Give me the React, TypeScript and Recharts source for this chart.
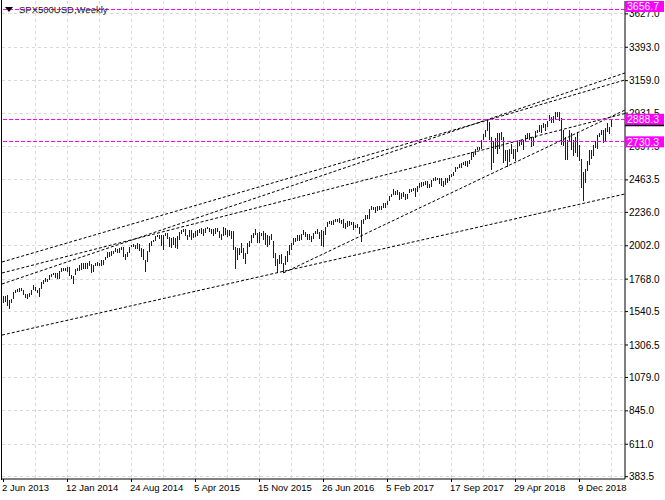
import React from 'react'
import { ComposedChart, Bar, XAxis, YAxis, CartesianGrid, ReferenceLine } from 'recharts'

// weekly bars, one per week starting 2 Jun 2013 (index 0) up to 31 Mar 2019 (index 304)
const highs = [
  1648, 1650, 1654, 1620, 1632, 1680, 1693, 1698, 1709, 1709,
  1695, 1664, 1666, 1670, 1690, 1730, 1711, 1695, 1705, 1745,
  1760, 1775, 1771, 1799, 1805, 1813, 1810, 1811, 1823, 1844,
  1849, 1843, 1851, 1850, 1799, 1793, 1840, 1847, 1867, 1883,
  1883, 1884, 1883, 1897, 1875, 1865, 1884, 1891, 1882, 1902,
  1901, 1924, 1955, 1955, 1964, 1968, 1985, 1979, 1983, 1991,
  1991, 1943, 1960, 1995, 2006, 2011, 2007, 2019, 2011, 1985,
  1977, 1905, 1965, 2019, 2034, 2042, 2071, 2075, 2079, 2076,
  2077, 2094, 2093, 2064, 2056, 2064, 2057, 2072, 2097, 2111,
  2119, 2117, 2080, 2114, 2114, 2089, 2103, 2111, 2120, 2126,
  2121, 2123, 2135, 2126, 2121, 2116, 2127, 2129, 2102, 2086,
  2132, 2129, 2114, 2113, 2103, 2102, 1994, 1987, 1983, 2021,
  1988, 1952, 2020, 2035, 2076, 2094, 2116, 2094, 2097, 2094,
  2104, 2090, 2076, 2067, 2081, 2038, 1950, 1908, 1940, 1947,
  1881, 1930, 1962, 2009, 2023, 2053, 2056, 2075, 2075, 2085,
  2111, 2099, 2083, 2084, 2071, 2094, 2105, 2120, 2096, 2113,
  2103, 2131, 2169, 2175, 2178, 2183, 2188, 2187, 2193, 2184,
  2187, 2162, 2176, 2175, 2170, 2169, 2148, 2152, 2133, 2182,
  2189, 2214, 2214, 2260, 2278, 2273, 2273, 2283, 2280, 2279,
  2300, 2300, 2319, 2352, 2368, 2401, 2384, 2390, 2382, 2370,
  2378, 2366, 2362, 2398, 2400, 2404, 2406, 2418, 2440, 2446,
  2446, 2454, 2453, 2434, 2463, 2477, 2484, 2480, 2480, 2474,
  2454, 2480, 2475, 2500, 2508, 2521, 2552, 2557, 2576, 2582,
  2588, 2598, 2593, 2605, 2657, 2652, 2680, 2695, 2693, 2745,
  2788, 2815, 2888, 2870, 2765, 2735, 2755, 2790, 2790, 2802,
  2762, 2675, 2675, 2680, 2718, 2683, 2682, 2733, 2743, 2742,
  2742, 2779, 2791, 2790, 2764, 2764, 2804, 2816, 2848, 2848,
  2863, 2855, 2877, 2916, 2906, 2908, 2941, 2939, 2940, 2898,
  2816, 2764, 2745, 2815, 2795, 2746, 2765, 2800, 2708, 2607,
  2520, 2540, 2597, 2675, 2671, 2708, 2738, 2780, 2794, 2814,
  2812, 2830, 2861, 2836, 2893,
]
const lows = [
  1598, 1608, 1577, 1560, 1601, 1630, 1671, 1681, 1676, 1684,
  1656, 1639, 1627, 1640, 1655, 1690, 1687, 1670, 1646, 1696,
  1735, 1747, 1746, 1760, 1780, 1800, 1779, 1772, 1767, 1818,
  1827, 1823, 1815, 1790, 1770, 1737, 1795, 1825, 1824, 1834,
  1839, 1839, 1842, 1862, 1813, 1815, 1857, 1859, 1859, 1863,
  1868, 1900, 1915, 1925, 1930, 1944, 1957, 1952, 1952, 1970,
  1925, 1904, 1921, 1953, 1990, 1990, 1980, 1977, 1963, 1926,
  1904, 1820, 1886, 1960, 2001, 2030, 2034, 2064, 2049, 2003,
  1972, 2070, 2046, 1992, 1988, 2004, 1989, 1981, 2041, 2085,
  2097, 2067, 2039, 2060, 2045, 2056, 2066, 2072, 2094, 2082,
  2067, 2093, 2117, 2099, 2085, 2072, 2085, 2097, 2056, 2044,
  2072, 2077, 2063, 2067, 2052, 1971, 1837, 1903, 1937, 1953,
  1909, 1871, 1947, 1990, 2022, 2058, 2076, 2022, 2019, 2070,
  2042, 2006, 1993, 2005, 2040, 1918, 1857, 1812, 1872, 1872,
  1810, 1865, 1891, 1937, 1969, 2010, 2027, 2033, 2034, 2039,
  2080, 2060, 2039, 2044, 2025, 2048, 2085, 2085, 2050, 2000,
  1991, 2074, 2131, 2155, 2149, 2147, 2168, 2168, 2160, 2157,
  2127, 2119, 2132, 2141, 2144, 2114, 2125, 2125, 2084, 2030,
  2156, 2183, 2187, 2188, 2250, 2254, 2233, 2245, 2254, 2256,
  2265, 2267, 2290, 2316, 2344, 2356, 2356, 2358, 2322, 2330,
  2344, 2322, 2328, 2373, 2379, 2384, 2344, 2382, 2407, 2415,
  2418, 2428, 2405, 2407, 2415, 2455, 2459, 2464, 2432, 2418,
  2417, 2429, 2441, 2459, 2487, 2488, 2521, 2541, 2547, 2545,
  2566, 2564, 2557, 2575, 2601, 2624, 2637, 2676, 2670, 2682,
  2742, 2766, 2808, 2745, 2532, 2580, 2680, 2647, 2682, 2741,
  2585, 2593, 2553, 2586, 2646, 2612, 2594, 2662, 2701, 2707,
  2676, 2730, 2752, 2741, 2692, 2698, 2757, 2790, 2800, 2793,
  2830, 2803, 2836, 2876, 2864, 2864, 2885, 2903, 2874, 2710,
  2700, 2604, 2603, 2730, 2670, 2631, 2649, 2621, 2593, 2408,
  2316, 2443, 2525, 2570, 2612, 2631, 2687, 2681, 2764, 2775,
  2722, 2732, 2800, 2785, 2836,
]

const xTicks = [0, 32, 64, 96, 128, 160, 192, 224, 256, 288]
const xTickLabels = [
  '2 Jun 2013', '12 Jan 2014', '24 Aug 2014', '5 Apr 2015', '15 Nov 2015',
  '26 Jun 2016', '5 Feb 2017', '17 Sep 2017', '29 Apr 2018', '9 Dec 2018',
]
const gridBars = [16, 32, 48, 64, 80, 96, 112, 128, 144, 160, 176, 192, 208, 224, 240, 256, 272, 288, 304]
const yTicks = [383.5, 611.0, 845.0, 1079.0, 1306.5, 1540.5, 1768.0, 2002.0, 2236.0, 2463.5, 2697.5, 2931.5, 3159.0, 3393.0, 3627.0]

// horizontal levels drawn on the chart
const levels = [3656.7, 2888.3, 2730.3]
const bidPrice = 2878

// trend lines: [bar index, price] at both ends
const trendStart = [[-0.75, 1888], [-0.75, 1811], [-0.75, 1734], [-0.75, 1376], [140, 1812]]
const trendEnd = [[310.75, 3164], [310.75, 2929], [310.75, 3213], [310.75, 2365], [310.75, 2953]]

const data = highs.map((h, i) => ({ i, range: [lows[i], h] }))

const FONT = "'Liberation Sans', Arial, sans-serif"
const X_DOMAIN = [-0.75, 310.75]
const Y_DOMAIN = [367.4, 3717.2]
const MARGIN = { top: 1, right: 0, bottom: 0, left: 2 }

const HighLowBar = (props: any) => {
  const { x, y, width, height } = props
  if (x == null || y == null || isNaN(x)) return null
  const cx = Math.round(x + width / 2 - 0.5) + 0.5
  return <line x1={cx} x2={cx} y1={y} y2={y + height} stroke="#0000ff" strokeWidth={1} shapeRendering="crispEdges" />
}

const XTick = (props: any) => {
  const { x, y, payload } = props
  const idx = xTicks.indexOf(payload.value)
  return (
    <text x={x - 1.5} y={y} dy="0.71em" textAnchor="start" fontSize={9.5} fontFamily={FONT} fill="#000">
      {xTickLabels[idx]}
    </text>
  )
}

// price tag on the right scale; near the top edge it is pushed up to the frame like the terminal does
const priceTag = (text: string, fill: string, color: string) => (props: any) => {
  const vb = props.viewBox || {}
  const left = vb.x + vb.width
  const top = vb.y - 5.5 < 6 ? 1 : vb.y - 5.5
  return (
    <g>
      <rect x={left} y={top} width={39} height={11} fill={fill} />
      <text x={left + 2} y={top + 5.5} dy="0.36em" fontSize={10.5} fontFamily={FONT} fill={color}>
        {text}
      </text>
    </g>
  )
}

export default function App() {
  return (
    <div style={{ position: 'absolute', left: 0, top: 0, width: 665, height: 500, background: '#fff' }}>
      <ComposedChart width={665} height={500} data={data} margin={MARGIN}>
        <CartesianGrid
          stroke="#d9d9d9"
          strokeDasharray="3 3"
          verticalValues={gridBars}
          horizontalValues={yTicks}
          shapeRendering="crispEdges"
        />
        <XAxis
          dataKey="i"
          type="number"
          domain={X_DOMAIN}
          allowDataOverflow
          ticks={xTicks}
          tick={<XTick />}
          tickSize={3}
          tickMargin={2}
          height={21}
          stroke="#000"
          interval={0}
        />
        <YAxis
          orientation="right"
          type="number"
          domain={Y_DOMAIN}
          allowDataOverflow
          ticks={yTicks}
          tickFormatter={(v: number) => v.toFixed(1)}
          tick={{ fontSize: 10, fontFamily: FONT, fill: '#000', textAnchor: 'start' }}
          tickSize={3}
          tickMargin={1}
          width={40}
          stroke="#000"
          interval={0}
        />
        <Bar
          dataKey="range"
          barSize={1}
          fill="#0000ff"
          shape={(p: any) => <HighLowBar {...p} />}
          isAnimationActive={false}
        />
        {trendStart.map((s, k) => (
          <ReferenceLine
            key={'t' + k}
            segment={[{ x: s[0], y: s[1] }, { x: trendEnd[k][0], y: trendEnd[k][1] }]}
            stroke="#000"
            strokeDasharray="3 2"
            ifOverflow="visible"
          />
        ))}
      </ComposedChart>

      {/* overlay with the price levels, so the tags sit above the axis labels */}
      <div style={{ position: 'absolute', left: 0, top: 0 }}>
        <ComposedChart width={665} height={500} data={data} margin={MARGIN}>
          <XAxis
            dataKey="i"
            type="number"
            domain={X_DOMAIN}
            allowDataOverflow
            height={21}
            tick={false}
            tickLine={false}
            axisLine={false}
          />
          <YAxis
            orientation="right"
            type="number"
            domain={Y_DOMAIN}
            allowDataOverflow
            width={40}
            tick={false}
            tickLine={false}
            axisLine={false}
          />
          <ReferenceLine y={bidPrice} stroke="none" ifOverflow="visible" label={priceTag('', '#000', '#fff')} />
          {levels.map((v) => (
            <ReferenceLine
              key={'l' + v}
              y={v}
              stroke="#ff00ff"
              strokeDasharray="4 2"
              ifOverflow="visible"
              shapeRendering="crispEdges"
              label={priceTag(v.toFixed(1), '#ff00ff', '#fff')}
            />
          ))}
        </ComposedChart>
      </div>

      <div style={{ position: 'absolute', left: 1, top: 0, width: 1, height: 480, background: '#000' }} />
      <div
        style={{
          position: 'absolute',
          left: 5,
          top: 4,
          display: 'flex',
          alignItems: 'center',
          fontFamily: FONT,
          fontSize: 9.5,
          color: '#222',
          lineHeight: '12px',
        }}
      >
        <svg width={8} height={6} style={{ marginRight: 6 }}>
          <polygon points="0,0 8,0 4,5" fill="#000" />
        </svg>
        <span>SPX500USD,Weekly</span>
      </div>
    </div>
  )
}
